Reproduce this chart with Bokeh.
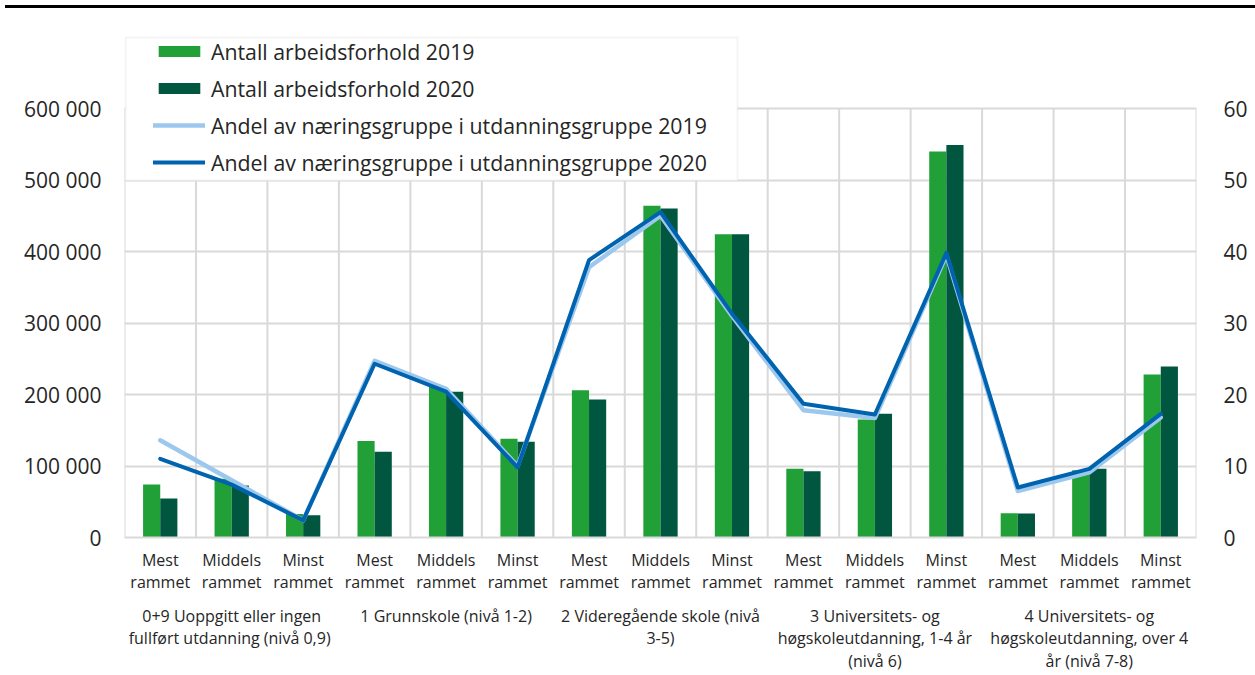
from bokeh.plotting import figure
from bokeh.layouts import column
from bokeh.models import (Range1d, LinearAxis, FixedTicker, Legend, LegendItem,
                          BoxAnnotation, ColumnDataSource, Div)
from bokeh.transform import dodge
from bokeh.embed import file_html
from bokeh.resources import INLINE

# ---------------- data ----------------
impact_levels = ["Mest\nrammet", "Middels\nrammet", "Minst\nrammet"]
education_groups = [
    "0+9 Uoppgitt eller ingen\nfullført utdanning  (nivå 0,9)",
    "1 Grunnskole (nivå 1-2)",
    "2 Videregående skole (nivå\n3-5)",
    "3 Universitets- og\nhøgskoleutdanning, 1-4 år\n(nivå 6)",
    "4 Universitets- og\nhøgskoleutdanning, over 4\når (nivå 7-8)",
]
jobs_2019 = [74000, 82000, 33000, 135000, 211000, 138000, 206000, 464000, 424000,
             96000, 165000, 540000, 34000, 94000, 228000]
jobs_2020 = [54500, 72700, 31000, 120000, 204000, 134000, 193000, 460000, 424000,
             92700, 173000, 549000, 33500, 96000, 239000]
share_2019 = [13.6, 8.0, 2.4, 24.7, 20.8, 10.0, 37.8, 45.0, 31.0,
              17.8, 16.7, 39.5, 6.5, 9.1, 16.8]
share_2020 = [11.0, 7.4, 2.4, 24.3, 20.4, 9.8, 38.8, 45.5, 31.3,
              18.7, 17.2, 39.8, 7.0, 9.6, 17.3]
left_ticks = [0, 100000, 200000, 300000, 400000, 500000, 600000]
left_tick_labels = ["0", "100 000", "200 000", "300 000", "400 000", "500 000", "600 000"]
right_ticks = [0, 10, 20, 30, 40, 50, 60]
legend_labels = ["Antall arbeidsforhold 2019", "Antall arbeidsforhold 2020",
                 "Andel av næringsgruppe i utdanningsgruppe 2019",
                 "Andel av næringsgruppe i utdanningsgruppe 2020"]

# ---------------- layout constants ----------------
FIG_W, FIG_H = 1250, 666
BORDER_L, BORDER_R, BORDER_B = 124, 47, 137
FRAME_H = FIG_H - BORDER_B          # frame spans up to the figure top
PLOT_H = 429                        # pixels between 0 and top tick
HEADROOM = FRAME_H / PLOT_H         # frame extends above top tick for the legend

n_sub = len(impact_levels)
n = len(education_groups) * n_sub
sub_labels = [lab for g in education_groups for lab in impact_levels]
centers = [i + 0.5 for i in range(n)]
bounds = list(range(n + 1))
group_centers = [g * n_sub + n_sub / 2 for g in range(len(education_groups))]

FONT = "Open Sans"
TXT = "#262626"
GRID = "#d9d9d9"
C19 = "#21A038"
C20 = "#00563F"
L19 = "#9DC8EE"
L20 = "#0063AF"

src = ColumnDataSource(dict(x=centers, j19=jobs_2019, j20=jobs_2020,
                            s19=share_2019, s20=share_2020))

p = figure(width=FIG_W, height=FIG_H, output_backend="svg", toolbar_location=None,
           x_range=Range1d(0, n),
           y_range=Range1d(left_ticks[0], left_ticks[-1] * HEADROOM),
           min_border_left=BORDER_L, min_border_right=BORDER_R, min_border_top=0,
           min_border_bottom=BORDER_B)
p.extra_y_ranges = {"pct": Range1d(right_ticks[0], right_ticks[-1] * HEADROOM)}
p.outline_line_color = None
p.background_fill_color = "white"
p.border_fill_color = "white"

# grids: horizontal via grid, vertical as segments stopping at the top tick
p.xgrid.visible = False
p.ygrid.ticker = FixedTicker(ticks=left_ticks)
p.ygrid.grid_line_color = GRID
p.ygrid.grid_line_width = 2
p.segment(x0=bounds, y0=[left_ticks[0]] * len(bounds), x1=bounds,
          y1=[left_ticks[-1]] * len(bounds), line_color=GRID, line_width=2)

# left axis
ya = p.yaxis[0]
ya.ticker = FixedTicker(ticks=left_ticks)
ya.major_label_overrides = dict(zip(left_ticks, left_tick_labels))
ya.axis_line_color = None
ya.major_tick_line_color = None
ya.minor_tick_line_color = None
ya.major_label_text_font = FONT
ya.major_label_text_font_size = "21px"
ya.major_label_text_color = TXT
ya.major_label_standoff = 17

# right axis
ra = LinearAxis(y_range_name="pct", ticker=FixedTicker(ticks=right_ticks))
ra.axis_line_color = None
ra.major_tick_line_color = None
ra.minor_tick_line_color = None
ra.major_label_text_font = FONT
ra.major_label_text_font_size = "21px"
ra.major_label_text_color = TXT
ra.major_label_standoff = 21
p.add_layout(ra, "right")

# x axis (sub labels)
xa = p.xaxis[0]
xa.ticker = FixedTicker(ticks=centers)
xa.major_label_overrides = dict(zip(centers, sub_labels))
xa.axis_line_color = GRID
xa.axis_line_width = 2
xa.major_tick_line_color = None
xa.minor_tick_line_color = None
xa.major_label_text_font = FONT
xa.major_label_text_font_size = "16px"
xa.major_label_text_color = TXT
xa.major_label_text_line_height = 1.0
xa.major_label_standoff = 5

# group axis
ga = LinearAxis(ticker=FixedTicker(ticks=group_centers))
ga.major_label_overrides = dict(zip(group_centers, education_groups))
ga.axis_line_color = None
ga.major_tick_line_color = None
ga.minor_tick_line_color = None
ga.major_label_text_font = FONT
ga.major_label_text_font_size = "16px"
ga.major_label_text_color = TXT
ga.major_label_text_line_height = 1.03
ga.major_label_standoff = 3
p.add_layout(ga, "below")

# bars
r19 = p.vbar(x=dodge("x", -0.12), top="j19", width=0.24, source=src,
             fill_color=C19, line_color=None)
r20 = p.vbar(x=dodge("x", 0.12), top="j20", width=0.24, source=src,
             fill_color=C20, line_color=None)
# lines
l19 = p.line("x", "s19", source=src, y_range_name="pct", line_color=L19,
             line_width=4.5, line_join="round", line_cap="round")
l20 = p.line("x", "s20", source=src, y_range_name="pct", line_color=L20,
             line_width=4, line_join="round", line_cap="round")

# legend box
p.add_layout(BoxAnnotation(left=1, right=613, top=500, bottom=357,
                           left_units="screen", right_units="screen",
                           top_units="screen", bottom_units="screen",
                           fill_color="white", fill_alpha=1,
                           line_color=GRID, line_width=2))

legend = Legend(items=[LegendItem(label=lab, renderers=[r])
                       for lab, r in zip(legend_labels, [r19, r20, l19, l20])],
                location=(29, 359), padding=0, margin=0, spacing=5,
                label_height=32, glyph_height=14, glyph_width=52,
                label_standoff=6, label_text_font=FONT,
                label_text_font_size="21.3px", label_text_color=TXT,
                background_fill_alpha=0, border_line_color=None)
p.add_layout(legend)

# top rule
rule = Div(text="", width=FIG_W, height=3, margin=(5, 0, 0, 5),
           styles={"background-color": "#000000"})

page = column(rule, p, spacing=0)
open("out.html", "w").write(file_html(page, INLINE))
